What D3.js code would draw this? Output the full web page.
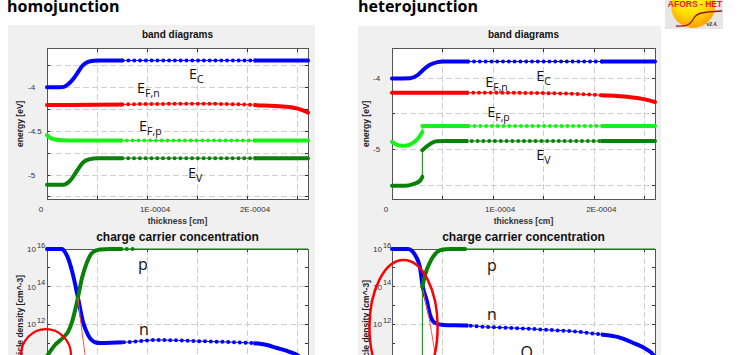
<!DOCTYPE html>
<html>
<head>
<meta charset="utf-8">
<script src="https://cdn.jsdelivr.net/npm/d3@7/dist/d3.min.js"></script>
<style>
html,body{margin:0;padding:0;background:#fff;overflow:hidden;}
svg{display:block;}
</style>
</head>
<body>
<svg id="chart" width="738" height="355"></svg>
<script>
// ---------------- DATA ----------------
// thickness in units of 1E-0004 cm, energy in eV, density in cm^-3
const panelTitles = ["homojunction", "heterojunction"];
const xTickValues = [0, 1, 2];
const xTickLabels = ["0", "1E-0004", "2E-0004"];
const xGridValues = [0.5, 1, 1.5, 2, 2.5];
const denseMeshRanges = [[0, 0.73], [2.09, 3]];
const sparseMeshRange = [0.73, 2.09];

const homoEnergyGrid = [-3.75, -4, -4.25, -4.5, -4.75, -5, -5.25];
const homoEnergyLabels = [-4, -4.5, -5];
const heteroEnergyGrid = [-4, -4.5, -5, -5.5];
const heteroEnergyLabels = [-4, -5];
const densityGrid = [1e14, 1e12, 1e10];
const densityTicks = [1e9, 1e10, 1e11, 1e12, 1e13, 1e14, 1e15];
const densityLabels = [1e16, 1e14, 1e12];

// homojunction band diagram
const homoEC = [[0,-4.0],[0.13,-4.0],[0.17,-3.995],[0.21,-3.966],[0.25,-3.92],[0.28,-3.878],[0.32,-3.81],[0.35,-3.76],[0.41,-3.71],[0.47,-3.696],[0.52,-3.693],[2.61,-3.693]];
const homoEFn = [[0,-4.201],[0.5,-4.199],[1.0,-4.19],[1.5,-4.187],[1.9,-4.193],[2.1,-4.203],[2.36,-4.219],[2.48,-4.235],[2.56,-4.262],[2.61,-4.288]];
const homoEFp = [[0,-4.545],[0.03,-4.575],[0.07,-4.592],[0.15,-4.603],[0.3,-4.606],[2.61,-4.606]];
const homoEV = [[0,-5.11],[0.16,-5.11],[0.23,-5.065],[0.30,-4.951],[0.36,-4.856],[0.43,-4.818],[0.50,-4.807],[2.61,-4.807]];

// heterojunction band diagram (interface at 0.30)
const heteroEC = [[0,-4.0],[0.18,-3.996],[0.25,-3.958],[0.31,-3.878],[0.38,-3.804],[0.45,-3.771],[0.50,-3.762],[2.6,-3.762]];
const heteroEFn = [[0,-4.20],[1.0,-4.202],[1.5,-4.206],[1.8,-4.218],[2.07,-4.236],[2.34,-4.262],[2.5,-4.295],[2.6,-4.332]];
const heteroEFpEmitter = [[0,-4.893],[0.06,-4.94],[0.13,-4.949],[0.198,-4.916],[0.257,-4.846],[0.30,-4.753]];
const heteroEFpAbsorber = [[0.30,-4.669],[2.6,-4.669]];
const heteroEVEmitter = [[0,-5.51],[0.13,-5.51],[0.21,-5.487],[0.277,-5.44],[0.30,-5.384]];
const heteroEVAbsorber = [[0.30,-5.01],[0.347,-4.954],[0.396,-4.905],[0.446,-4.885],[0.52,-4.882],[2.6,-4.882]];

// homojunction carrier densities
const homoN = [[0,1e16],[0.15,1e16],[0.18,6.9e15],[0.21,3.3e15],[0.26,4.2e14],[0.31,2.5e13],[0.36,1.3e12],[0.41,2.7e11],[0.48,1.1e11],[0.53,1.0e11],[0.78,1.1e11],[1.10,1.45e11],[1.53,1.25e11],[1.86,1.1e11],[2.03,1.0e11],[2.20,7.8e10],[2.30,5.4e10],[2.43,3.3e10],[2.50,2.3e10],[2.56,1.25e10],[2.61,6e9]];
const homoP = [[0,2.0e10],[0.08,7.8e10],[0.16,1.9e11],[0.21,3.9e11],[0.25,1.3e12],[0.30,1.5e13],[0.35,2.9e14],[0.40,2.0e15],[0.46,6.9e15],[0.53,9.3e15],[0.63,1e16],[0.86,1e16]];
const homoPTail = [[0.86,1e16],[2.61,1e16]];
const homoR = [[0.31,2.5e13],[0.325,5e12],[0.34,1e12],[0.36,1.6e11],[0.38,2.5e10],[0.40,3e9]];

// heterojunction carrier densities
const heteroN = [[0,1e16],[0.158,1e16],[0.228,4.8e15],[0.277,9.8e14],[0.30,1.3e14],[0.347,1.5e13],[0.376,3.1e12],[0.426,1.15e12],[0.505,9.1e11],[0.743,8.5e11],[0.941,7.1e11],[1.198,6.3e11],[1.564,4.9e11],[1.812,4.1e11],[2.03,3.0e11],[2.228,2.1e11],[2.386,1.0e11],[2.525,4.3e10],[2.584,2.3e10],[2.6,1.4e10]];
const heteroPStep = [[0.30,1e7],[0.30,9.5e13]];
const heteroP = [[0.30,9.5e13],[0.327,4.2e14],[0.376,2.0e15],[0.446,6.9e15],[0.505,9.3e15],[0.574,1e16],[0.723,1e16]];
const heteroPTail = [[0.723,1e16],[2.6,1e16]];
const heteroR = [[0.31,6.6e13],[0.33,1.6e13],[0.36,3.2e12],[0.39,4e11],[0.42,4e10],[0.44,8e9],[0.46,1.6e9]];

// annotations
const homoBandLabels = [["E","C",1.42,-3.909],["E","F,n",0.90,-4.068],["E","F,p",0.92,-4.50],["E","V",1.41,-5.03]];
const heteroBandLabels = [["E","C",1.426,-4.042],["E","F,n",0.921,-4.126],["E","F,p",0.941,-4.547],["E","V",1.426,-5.15]];
const homoDensityLabels = [["p",0.91,7.6e14],["n",0.92,2.7e11]];
const heteroDensityLabels = [["p",0.94,6.8e14],["n",0.94,1.66e12],["O",1.27,1.6e10]];
const homoEllipse = [-0.01, 2.3e10, 0.25, 5.5e11];   // cx, cy, rx, top
const heteroEllipse = [0.114, 7.1e11, 0.337, 2.6e15];

// ---------------- DRAWING ----------------
const svg = d3.select("#chart");
const defs = svg.append("defs");
const SANS = "'Liberation Sans', Arial, sans-serif";
const OPEN = "'Open Sans', sans-serif";
const C = {blue:"#0000ff", red:"#ff0000", lgreen:"#19f019", dgreen:"#0a820a", thinRed:"#ff5050"};
let clipN = 0;

function clipRect(rects) {
  const id = "clip" + (clipN++);
  const cp = defs.append("clipPath").attr("id", id);
  rects.forEach(r => cp.append("rect").attr("x", r[0]).attr("y", r[1]).attr("width", r[2]).attr("height", r[3]));
  return id;
}

function makeClips(x, y) {
  const [x0, x1] = x.range(), [yb, yt] = y.range();
  const top = yt - 3, h = (yb - yt) + 6;
  const plot = clipRect([[x0 - 0.5, yt - 1, x1 - x0 + 1, yb - yt + 2]]);
  const plotPad = clipRect([[x0 - 2.5, top, x1 - x0 + 5, h]]);
  const dense = clipRect(denseMeshRanges.map(r => {
    const a = Math.max(x(r[0]), x0) - 2.5, b = Math.min(x(r[1]), x1) + 2.5;
    return [a, top, b - a, h];
  }));
  const sparse = clipRect([[x(sparseMeshRange[0]), top, x(sparseMeshRange[1]) - x(sparseMeshRange[0]), h]]);
  return {plot, plotPad, dense, sparse};
}

function frame(layer, x, y, yGrid, yTicks) {
  const [x0, x1] = x.range(), [yb, yt] = y.range();
  layer.append("rect").attr("x", x0).attr("y", yt).attr("width", x1 - x0).attr("height", yb - yt).attr("fill", "#fff");
  const grid = layer.append("g").attr("stroke", "#cfcfcf").attr("stroke-width", 1).attr("stroke-dasharray", "6 3").attr("shape-rendering", "crispEdges");
  xGridValues.forEach(v => grid.append("line").attr("x1", x(v)).attr("x2", x(v)).attr("y1", yt).attr("y2", yb));
  yGrid.forEach(v => grid.append("line").attr("x1", x0).attr("x2", x1).attr("y1", y(v)).attr("y2", y(v)));
  const tk = layer.append("g").attr("stroke", "#333").attr("stroke-width", 1).attr("shape-rendering", "crispEdges");
  xGridValues.forEach(v => {
    tk.append("line").attr("x1", x(v)).attr("x2", x(v)).attr("y1", yt).attr("y2", yt + 3);
    tk.append("line").attr("x1", x(v)).attr("x2", x(v)).attr("y1", yb).attr("y2", yb - 3);
  });
  yTicks.forEach(v => {
    tk.append("line").attr("x1", x0).attr("x2", x0 + 3).attr("y1", y(v)).attr("y2", y(v));
    tk.append("line").attr("x1", x1).attr("x2", x1 - 3).attr("y1", y(v)).attr("y2", y(v));
  });
  layer.append("rect").attr("x", x0).attr("y", yt).attr("width", x1 - x0).attr("height", yb - yt)
    .attr("fill", "none").attr("stroke", "#555").attr("stroke-width", 1).attr("shape-rendering", "crispEdges");
}

function drawSeries(layer, x, y, clips, segs, marked, color, thinW) {
  const gen = d3.line().x(d => x(d[0])).y(d => y(d[1])).curve(d3.curveMonotoneX);
  const lin = d3.line().x(d => x(d[0])).y(d => y(d[1]));
  const thin = layer.append("g").attr("clip-path", `url(#${clips.plot})`)
    .attr("fill", "none").attr("stroke", color).attr("stroke-width", thinW || 1);
  segs.forEach((seg, i) => {
    thin.append("path").attr("d", gen(seg));
    if (i > 0) {
      const prev = segs[i - 1];
      thin.append("path").attr("d", lin([prev[prev.length - 1], seg[0]]));
    }
  });
  segs.forEach((seg, i) => {
    if (!marked[i]) return;
    const g = layer.append("g").attr("clip-path", `url(#${clips.plotPad})`);
    g.append("path").attr("d", gen(seg)).attr("clip-path", `url(#${clips.dense})`)
      .attr("fill", "none").attr("stroke", color).attr("stroke-width", 4)
      .attr("stroke-linecap", "round").attr("stroke-linejoin", "round");
    g.append("path").attr("d", gen(seg)).attr("clip-path", `url(#${clips.sparse})`)
      .attr("fill", "none").attr("stroke", color).attr("stroke-width", 4)
      .attr("stroke-linecap", "round").attr("stroke-dasharray", "0 5.8");
  });
}

function bandLabel(layer, x, y, lab) {
  const t = layer.append("text").attr("x", x(lab[2])).attr("y", y(lab[3]))
    .attr("font-family", OPEN).attr("font-size", 14.5).attr("fill", "#111");
  t.append("tspan").text(lab[0]);
  t.append("tspan").attr("font-size", 10.5).attr("dy", 4).text(lab[1]);
}

function panel(cfg) {
  const layer = svg.append("g");
  layer.append("rect").attr("x", cfg.bgX).attr("y", cfg.bgY).attr("width", cfg.bgW).attr("height", 355 - cfg.bgY).attr("fill", "#f0f0f0");
  layer.append("text").attr("x", cfg.titleX).attr("y", 12).text(cfg.title)
    .attr("font-family", OPEN).attr("font-weight", 700).attr("font-size", 16).attr("fill", "#000");

  const x = d3.scaleLinear().domain(cfg.xDomain).range([cfg.left, cfg.right]);
  const yE = d3.scaleLinear().domain(cfg.eDomain).range([199, 48.5]);
  const yN = d3.scaleLog().domain([1e8, 1e16]).range([399.4, 249]);
  const cx = (cfg.left + cfg.right) / 2;

  const boldTxt = (tx, ty, s, fs, col) => layer.append("text").attr("x", tx).attr("y", ty).text(s)
    .attr("text-anchor", "middle").attr("font-family", SANS).attr("font-weight", 700).attr("font-size", fs).attr("fill", col || "#111");
  boldTxt(cx, 38, "band diagrams", 10);
  boldTxt(cx, 224, "thickness [cm]", 8.5, "#333");
  boldTxt(cx, 240.5, "charge carrier concentration", 12);

  layer.append("text").attr("transform", `translate(${cfg.ylabX},${(199 + 48.5) / 2}) rotate(-90)`)
    .attr("text-anchor", "middle").attr("font-family", SANS).attr("font-weight", 700).attr("font-size", 8.5).attr("fill", "#222").text("energy [eV]");
  layer.append("text").attr("transform", `translate(${cfg.ylabX},${cfg.densLabEnd}) rotate(-90)`)
    .attr("text-anchor", "end").attr("font-family", SANS).attr("font-weight", 700).attr("font-size", 8.5).attr("fill", "#222").text("particle density [cm^-3]");

  // top plot
  const topG = layer.append("g");
  frame(topG, x, yE, cfg.eGrid, cfg.eGrid);
  xTickValues.forEach((v, i) => topG.append("text").attr("x", x(v) + cfg.xLabOff[i]).attr("y", 212)
    .attr("text-anchor", "middle").attr("font-family", SANS).attr("font-size", 8).attr("fill", "#333").text(xTickLabels[i]));
  cfg.eLabels.forEach(v => topG.append("text").attr("x", cfg.eLabX).attr("y", yE(v)).attr("dy", "0.35em")
    .attr("font-family", SANS).attr("font-size", 8).attr("fill", "#333").text(String(v)));
  const ct = makeClips(x, yE);
  cfg.bands.forEach(b => drawSeries(topG, x, yE, ct, b.segs, b.marked, b.color));
  cfg.bandLabels.forEach(l => bandLabel(topG, x, yE, l));

  // bottom plot
  const botG = layer.append("g");
  frame(botG, x, yN, densityGrid, densityTicks);
  densityLabels.forEach(v => {
    const t = botG.append("text").attr("x", cfg.nLabX).attr("y", yN(v) + 3)
      .attr("font-family", SANS).attr("font-size", 8).attr("fill", "#333");
    t.append("tspan").text("10");
    t.append("tspan").attr("dx", 1).attr("dy", -4.5).attr("font-size", 7.5).text(String(Math.round(Math.log10(v))));
  });
  const cb = makeClips(x, yN);
  cfg.densities.forEach(s => drawSeries(botG, x, yN, cb, s.segs, s.marked, s.color, s.w));
  cfg.densLabels.forEach(l => botG.append("text").attr("x", x(l[1])).attr("y", yN(l[2]))
    .attr("font-family", OPEN).attr("font-size", 16).attr("fill", "#111").text(l[0]));
  const e = cfg.ellipse;
  const ecy = yN(e[1]);
  layer.append("ellipse").attr("cx", x(e[0])).attr("cy", ecy)
    .attr("rx", x(e[0] + e[2]) - x(e[0])).attr("ry", ecy - yN(e[3]))
    .attr("fill", "none").attr("stroke", "#ff0000").attr("stroke-width", cfg.ellW);
}

panel({
  title: panelTitles[0], titleX: 7, bgX: 8, bgY: 25, bgW: 307,
  left: 47, right: 308, xDomain: [0, 2.61], eDomain: [-5.273, -3.557],
  eGrid: homoEnergyGrid, eLabels: homoEnergyLabels, eLabX: 28, nLabX: 27,
  xLabOff: [-6, 8, 8], ylabX: 23, densLabEnd: 275, ellW: 2.2,
  bands: [
    {segs: [homoEC], marked: [true], color: C.blue},
    {segs: [homoEFn], marked: [true], color: C.red},
    {segs: [homoEFp], marked: [true], color: C.lgreen},
    {segs: [homoEV], marked: [true], color: C.dgreen}
  ],
  bandLabels: homoBandLabels,
  densities: [
    {segs: [homoN], marked: [true], color: C.blue},
    {segs: [homoP, homoPTail], marked: [true, false], color: C.dgreen},
    {segs: [homoR], marked: [false], color: C.thinRed, w: 1}
  ],
  densLabels: homoDensityLabels, ellipse: homoEllipse
});

panel({
  title: panelTitles[1], titleX: 358, bgX: 358, bgY: 26, bgW: 303,
  left: 392, right: 655, xDomain: [0, 2.6], eDomain: [-5.697, -3.579],
  eGrid: heteroEnergyGrid, eLabels: heteroEnergyLabels, eLabX: 373, nLabX: 373,
  xLabOff: [-6, 7, 7], ylabX: 369, densLabEnd: 280, ellW: 2.5,
  bands: [
    {segs: [heteroEC], marked: [true], color: C.blue},
    {segs: [heteroEFn], marked: [true], color: C.red},
    {segs: [heteroEFpEmitter, heteroEFpAbsorber], marked: [true, true], color: C.lgreen},
    {segs: [heteroEVEmitter, heteroEVAbsorber], marked: [true, true], color: C.dgreen}
  ],
  bandLabels: heteroBandLabels,
  densities: [
    {segs: [heteroN], marked: [true], color: C.blue},
    {segs: [heteroPStep, heteroP, heteroPTail], marked: [false, true, false], color: C.dgreen},
    {segs: [heteroR], marked: [false], color: C.thinRed, w: 1}
  ],
  densLabels: heteroDensityLabels, ellipse: heteroEllipse
});

// ---------------- LOGO ----------------
const logo = svg.append("g");
const grad = defs.append("radialGradient").attr("id", "sun").attr("cx", "45%").attr("cy", "30%").attr("r", "65%");
grad.append("stop").attr("offset", "0%").attr("stop-color", "#ffff40");
grad.append("stop").attr("offset", "60%").attr("stop-color", "#ffe000");
grad.append("stop").attr("offset", "100%").attr("stop-color", "#ffa800");
const logoClip = clipRect([[665, 0, 58, 29]]);
logo.append("rect").attr("x", 665).attr("y", 0).attr("width", 58).attr("height", 29).attr("fill", "#e6e6e6");
const lg = logo.append("g").attr("clip-path", `url(#${logoClip})`);
lg.append("circle").attr("cx", 693).attr("cy", 6).attr("r", 22).attr("fill", "url(#sun)");
lg.append("path").attr("d", "M676,26 C686,27 690,25 694,18 C697,13 702,12 722,11")
  .attr("fill", "none").attr("stroke", "#9a1010").attr("stroke-width", 1.3);
lg.append("text").attr("x", 695).attr("y", 7).attr("text-anchor", "middle").attr("font-family", SANS)
  .attr("font-weight", 700).attr("font-size", 8.5).attr("fill", "#e8201a").text("AFORS - HET");
lg.append("text").attr("x", 712).attr("y", 26).attr("text-anchor", "middle").attr("font-family", SANS)
  .attr("font-weight", 700).attr("font-size", 5).attr("fill", "#333").text("v2.4.");
</script>
</body>
</html>
